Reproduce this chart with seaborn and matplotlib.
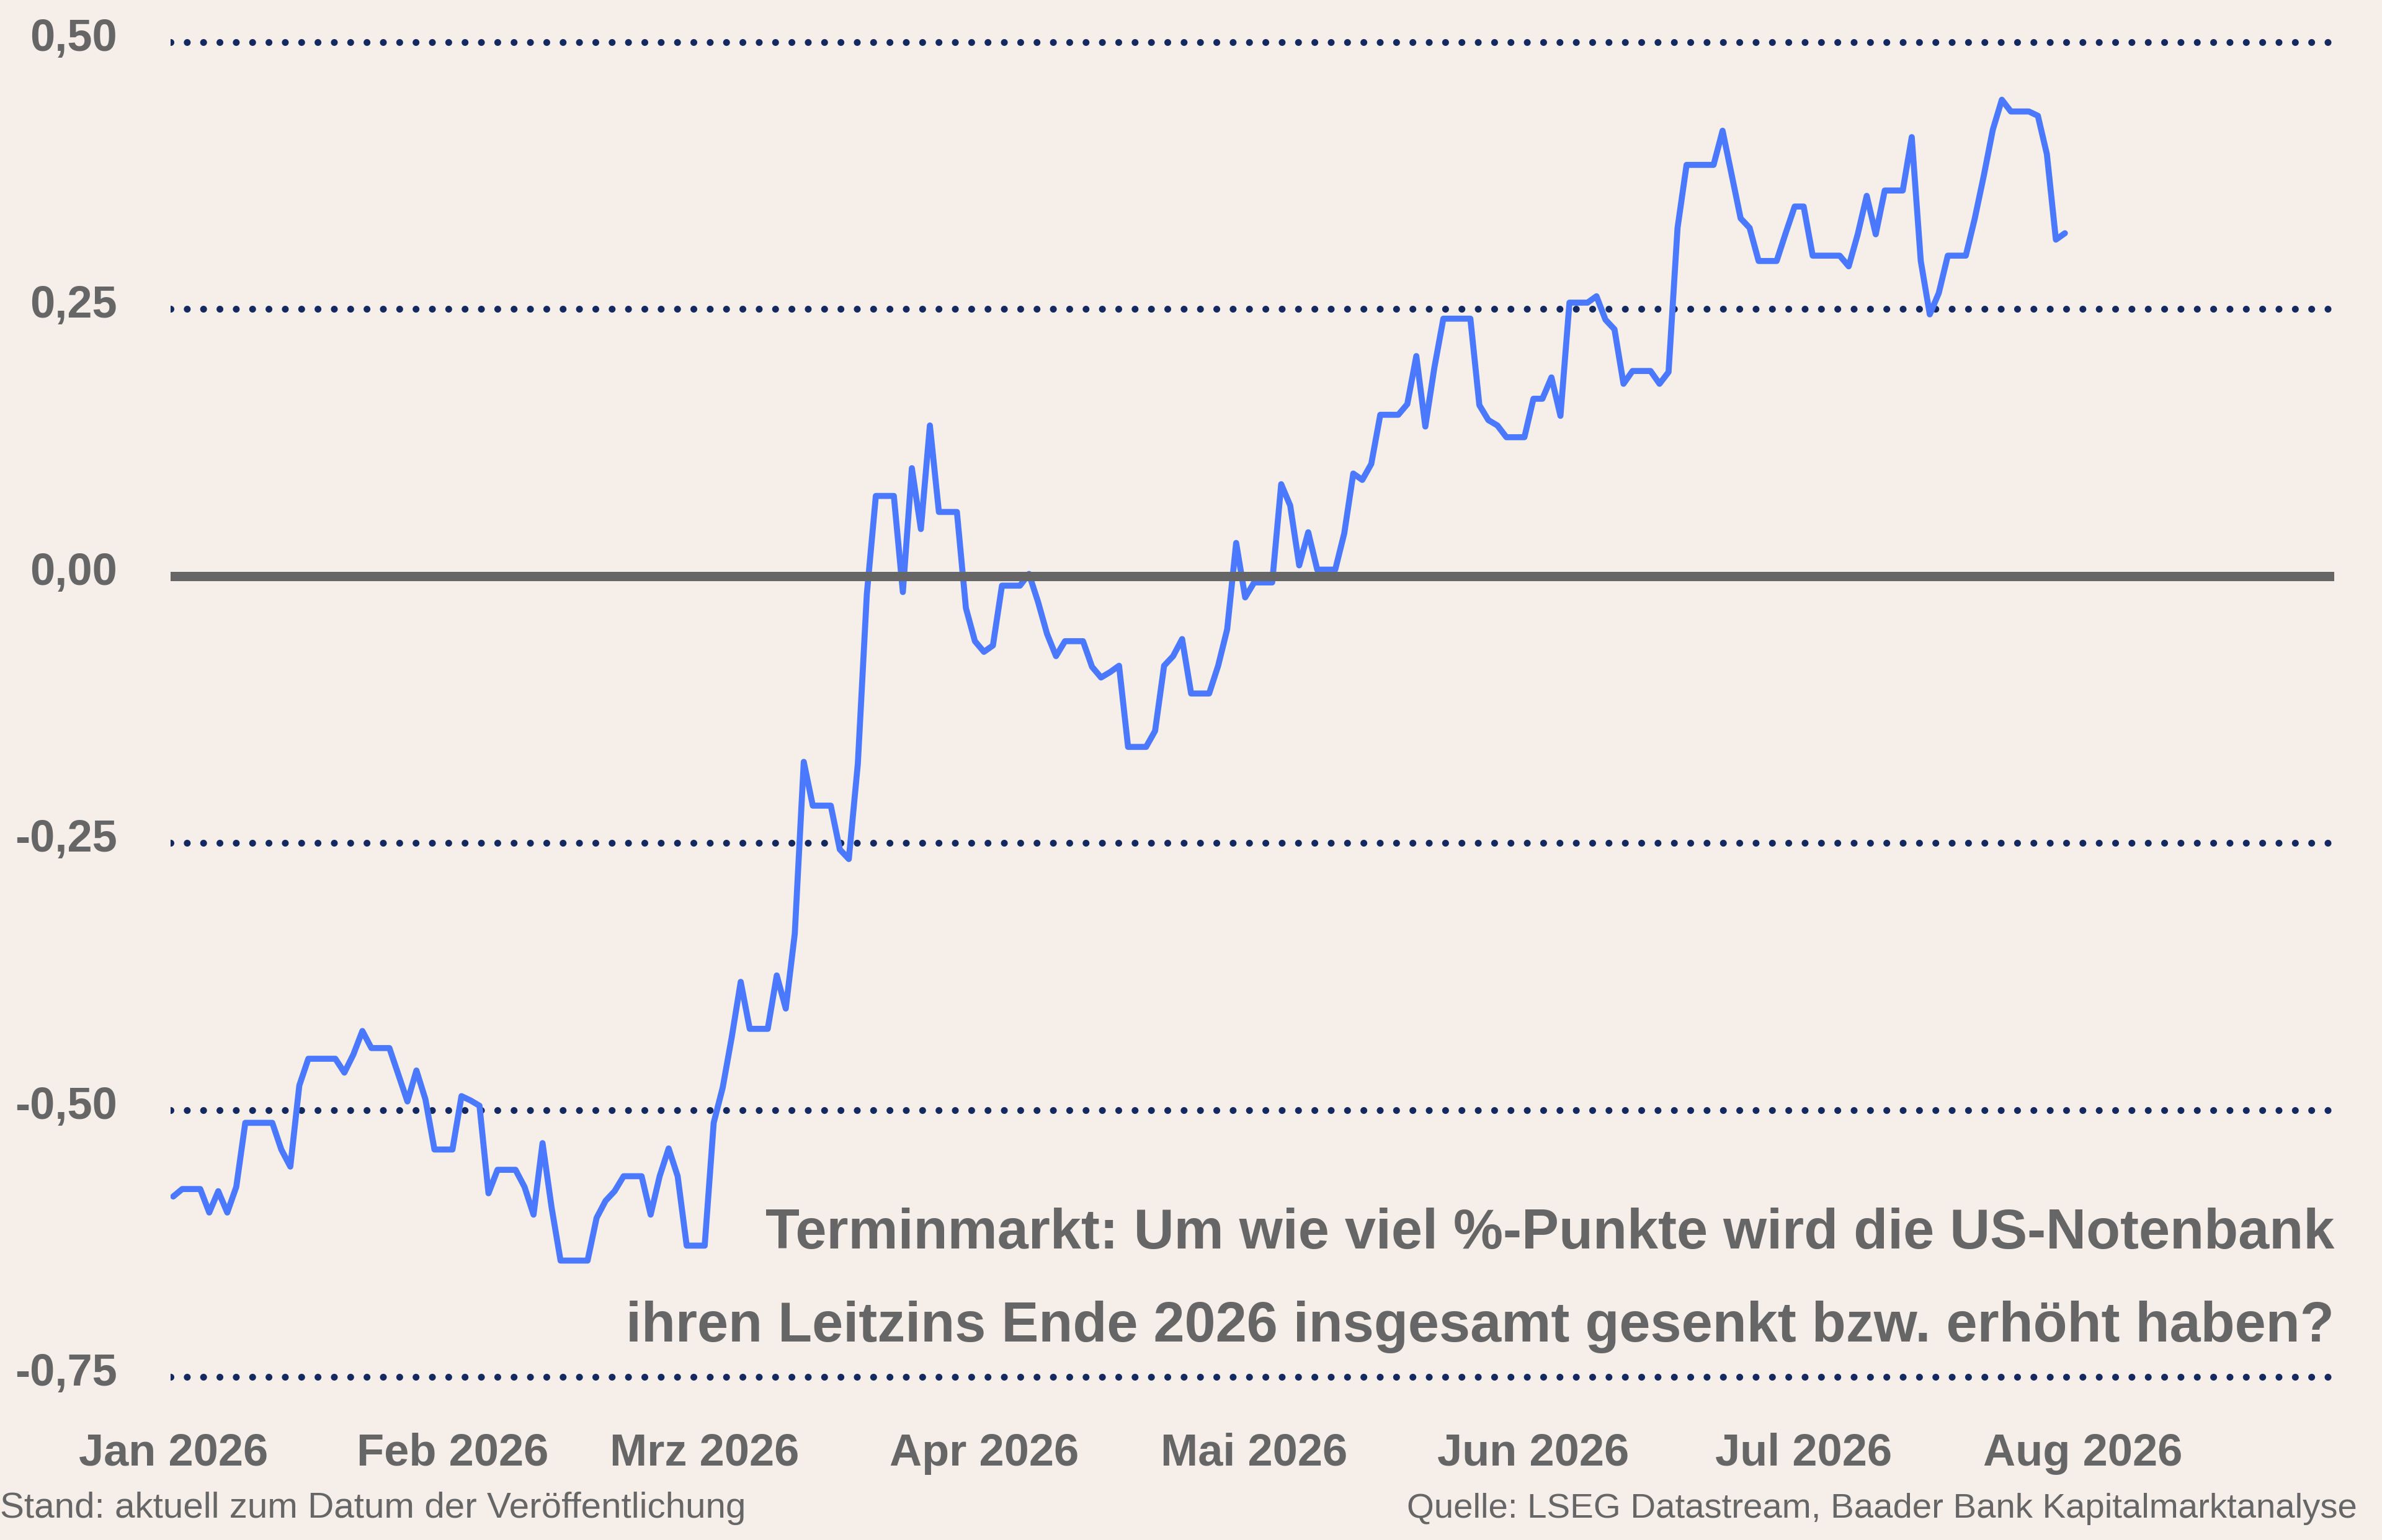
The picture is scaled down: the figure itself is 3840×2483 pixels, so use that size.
import numpy as np
import pandas as pd
import matplotlib
matplotlib.use("Agg")
import matplotlib.pyplot as plt
import matplotlib.transforms as mtransforms
import seaborn as sns

# days since 1 Jan 2026 (vertices of the curve) and forward-market value in %-points
DAY_OFFSET = [
    0, 1, 3, 4, 5, 6, 7, 8, 11, 12, 13, 14, 15, 18, 19, 20, 21, 22, 24, 25,
    26, 27, 28, 29, 31, 32, 33, 34, 35, 36, 38, 39, 40, 41, 42, 43, 46, 47, 48, 49,
    50, 52, 53, 54, 55, 56, 57, 59, 60, 61, 62, 63, 64, 66, 67, 68, 69, 70, 71, 73,
    74, 75, 76, 77, 78, 80, 81, 82, 83, 84, 85, 87, 88, 89, 90, 91, 92, 94, 95, 96,
    97, 98, 99, 101, 102, 103, 104, 105, 106, 108, 109, 110, 111, 112, 113, 115, 116, 117, 118, 119,
    120, 122, 123, 124, 125, 126, 127, 129, 130, 131, 132, 133, 134, 136, 137, 138, 139, 140, 141, 144,
    145, 146, 147, 148, 150, 151, 152, 153, 154, 155, 157, 158, 159, 160, 161, 162, 164, 165, 166, 167,
    168, 171, 172, 173, 174, 175, 176, 178, 179, 180, 181, 182, 185, 186, 187, 188, 189, 190, 192, 193,
    194, 195, 196, 197, 199, 200, 201, 202, 203, 204, 206, 207, 208, 209, 210,
]
VALUES = [
    -0.581, -0.574, -0.574, -0.596, -0.576, -0.596, -0.572, -0.512, -0.512, -0.537,
    -0.553, -0.477, -0.452, -0.452, -0.465, -0.448, -0.426, -0.442, -0.442, -0.467,
    -0.492, -0.463, -0.490, -0.537, -0.537, -0.487, -0.491, -0.496, -0.578, -0.556,
    -0.556, -0.572, -0.598, -0.531, -0.591, -0.641, -0.641, -0.601, -0.585, -0.576,
    -0.562, -0.562, -0.598, -0.562, -0.536, -0.562, -0.627, -0.627, -0.512, -0.479,
    -0.432, -0.380, -0.424, -0.424, -0.374, -0.405, -0.335, -0.174, -0.215, -0.215,
    -0.256, -0.265, -0.176, -0.017, 0.075, 0.075, -0.015, 0.101, 0.044, 0.141,
    0.060, 0.060, -0.030, -0.061, -0.071, -0.065, -0.009, -0.009, 0.002, -0.024,
    -0.054, -0.075, -0.061, -0.061, -0.085, -0.095, -0.090, -0.084, -0.160, -0.160,
    -0.145, -0.084, -0.075, -0.059, -0.110, -0.110, -0.084, -0.050, 0.031, -0.020,
    -0.006, -0.006, 0.086, 0.066, 0.010, 0.041, 0.006, 0.006, 0.040, 0.096,
    0.090, 0.105, 0.151, 0.151, 0.161, 0.206, 0.140, 0.195, 0.241, 0.241,
    0.160, 0.146, 0.141, 0.130, 0.130, 0.166, 0.166, 0.186, 0.150, 0.256,
    0.256, 0.262, 0.240, 0.231, 0.180, 0.192, 0.192, 0.180, 0.191, 0.326,
    0.385, 0.385, 0.417, 0.376, 0.335, 0.326, 0.295, 0.295, 0.321, 0.346,
    0.346, 0.300, 0.300, 0.290, 0.320, 0.356, 0.320, 0.361, 0.361, 0.411,
    0.295, 0.245, 0.265, 0.300, 0.300, 0.335, 0.375, 0.418, 0.446, 0.435,
    0.435, 0.431, 0.395, 0.315, 0.321,
]

MONTH_STARTS = ["2026-01-01", "2026-02-01", "2026-03-01", "2026-04-01",
                "2026-05-01", "2026-06-01", "2026-07-01", "2026-08-01"]
MONTH_LABELS = ["Jan 2026", "Feb 2026", "Mrz 2026", "Apr 2026",
                "Mai 2026", "Jun 2026", "Jul 2026", "Aug 2026"]
Y_TICKS = [0.50, 0.25, 0.00, -0.25, -0.50, -0.75]
Y_LABELS = ["0,50", "0,25", "0,00", "-0,25", "-0,50", "-0,75"]

TITLE_1 = "Terminmarkt: Um wie viel %-Punkte wird die US-Notenbank"
TITLE_2 = "ihren Leitzins Ende 2026 insgesamt gesenkt bzw. erhöht haben?"
NOTE_LEFT = "Stand: aktuell zum Datum der Veröffentlichung"
NOTE_RIGHT = "Quelle: LSEG Datastream, Baader Bank Kapitalmarktanalyse"

BG = "#F5EEE9"
GREY = "#666666"
NAVY = "#13295F"
BLUE = "#4A78FF"

sns.set_theme(style="white")
plt.rcParams["font.family"] = ["Liberation Sans", "DejaVu Sans"]

start = pd.Timestamp("2026-01-01")
df = pd.DataFrame({
    "date": start + pd.to_timedelta(DAY_OFFSET, unit="D"),
    "value": VALUES,
})

fig = plt.figure(figsize=(19.2, 12.415), dpi=200, facecolor=BG)
ax = fig.add_axes([275 / 3840, 1 - 2246 / 2483, (3763 - 275) / 3840, (2246 - 42) / 2483])
ax.set_facecolor(BG)

for y in Y_TICKS:
    ax.axhline(y, color=NAVY, linewidth=4.0, linestyle=(0, (0.001, 2.37)),
               dash_capstyle="round", zorder=1)

sns.lineplot(data=df, x="date", y="value", color=BLUE, linewidth=3.5, ax=ax,
             zorder=3, solid_joinstyle="round", solid_capstyle="round")

ax.axhline(0, color=GREY, linewidth=5.4, zorder=4)

ax.set_xlim(start - pd.Timedelta(hours=7), start + pd.Timedelta(days=239.9))
ax.set_ylim(-0.765, 0.515)

ax.set_xticks(pd.to_datetime(MONTH_STARTS))
ax.set_xticklabels(MONTH_LABELS)
ax.set_yticks(Y_TICKS)
ax.set_yticklabels(Y_LABELS)
ax.set_xlabel("")
ax.set_ylabel("")
ax.tick_params(axis="x", length=0, pad=23, labelsize=26, labelcolor=GREY)
ax.tick_params(axis="y", length=0, pad=31, labelsize=26, labelcolor=GREY)
shift_up = mtransforms.ScaledTranslation(0, 4.5 / 72, fig.dpi_scale_trans)
for lab in ax.get_xticklabels() + ax.get_yticklabels():
    lab.set_fontweight("bold")
for lab in ax.get_yticklabels():
    lab.set_transform(lab.get_transform() + shift_up)
sns.despine(ax=ax, left=True, bottom=True)

fig.text(0.98, 1 - 2013 / 2483, TITLE_1, ha="right", va="baseline",
         fontsize=32.4, fontweight="bold", color=GREY)
fig.text(0.98, 1 - 2163 / 2483, TITLE_2, ha="right", va="baseline",
         fontsize=32.4, fontweight="bold", color=GREY)
fig.text(0.0, 1 - 2447 / 2483, NOTE_LEFT, ha="left", va="baseline",
         fontsize=21, color=GREY)
fig.text(3800 / 3840, 1 - 2447 / 2483, NOTE_RIGHT, ha="right", va="baseline",
         fontsize=20.3, color=GREY)

fig.savefig("out.png", dpi=200, facecolor=BG)
